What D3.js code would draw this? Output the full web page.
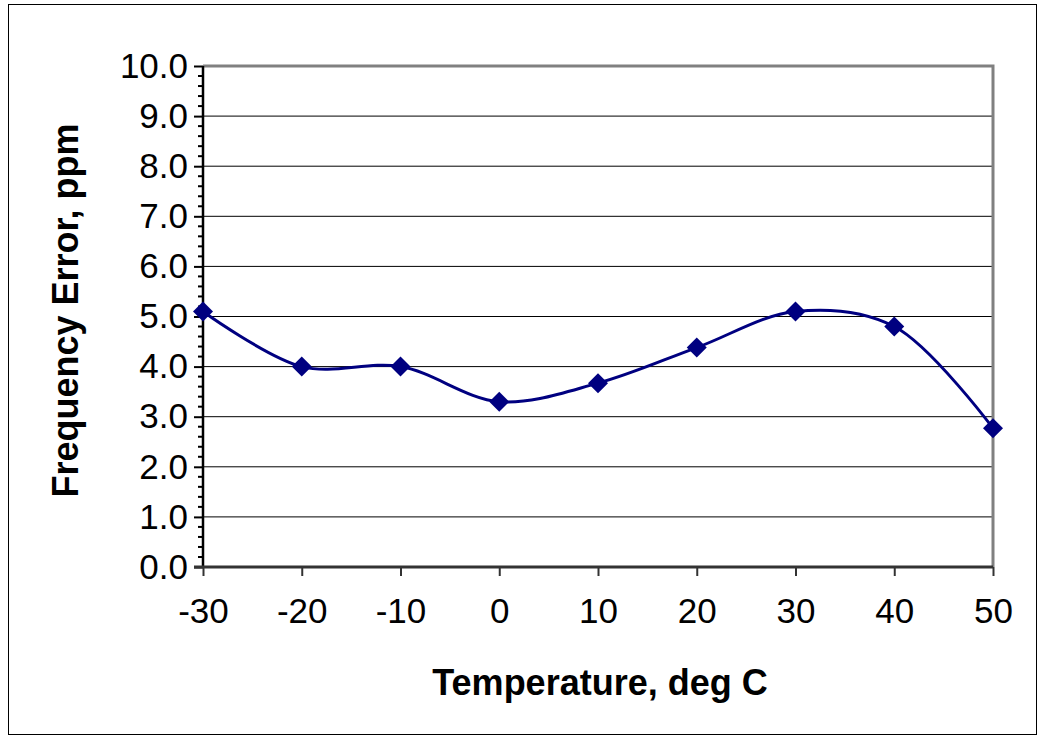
<!DOCTYPE html>
<html><head><meta charset="utf-8">
<script src="https://cdn.jsdelivr.net/npm/d3@7"></script>
<style>body{margin:0;background:#fff}text{font-family:Arial,"Liberation Sans",sans-serif}</style>
</head><body>
<svg id="chart" width="1045" height="740"></svg>
<script>
// values
var temps = [-30, -20, -10, 0, 10, 20, 30, 40, 50];
var errors = [5.1, 4.0, 4.0, 3.3, 3.67, 4.38, 5.1, 4.8, 2.77];
var yTicks = [0, 1, 2, 3, 4, 5, 6, 7, 8, 9, 10];

var svg = d3.select('#chart');
svg.append('rect').attr('x', 8.5).attr('y', 4.5).attr('width', 1028).attr('height', 730)
   .attr('fill', 'none').attr('stroke', '#000').attr('stroke-width', 1);

var x = d3.scaleLinear().domain([-30, 50]).range([203, 993]);
var y = d3.scaleLinear().domain([0, 10]).range([567, 66]);

// gridlines
svg.selectAll('.grid').data(yTicks.slice(1, -1)).enter().append('line')
   .attr('x1', x(-30)).attr('x2', x(50))
   .attr('y1', function(d) { return y(d); }).attr('y2', function(d) { return y(d); })
   .attr('stroke', '#000').attr('stroke-width', 1);

// plot frame top/right
svg.append('path').attr('d', 'M' + x(-30) + ',' + y(10) + 'H' + x(50) + 'V' + y(0))
   .attr('fill', 'none').attr('stroke', '#808080').attr('stroke-width', 3);

// y axis
var yAxis = d3.axisLeft(y).tickValues(yTicks).tickSize(9).tickPadding(6)
   .tickFormat(d3.format('.1f'));
var gy = svg.append('g').attr('transform', 'translate(' + x(-30) + ',0)').call(yAxis);
gy.select('.domain').remove();
gy.selectAll('line').attr('stroke', '#000').attr('stroke-width', 2);
gy.selectAll('text').style('font-size', '35px').attr('fill', '#000');
var minor = d3.range(0, 10.01, 0.2).filter(function(d) { return Math.abs(d - Math.round(d)) > 0.01; });
gy.selectAll('.minor').data(minor).enter().append('line')
   .attr('x1', -5).attr('x2', 0)
   .attr('y1', function(d) { return y(d); }).attr('y2', function(d) { return y(d); })
   .attr('stroke', '#000').attr('stroke-width', 2);
svg.append('line').attr('x1', x(-30)).attr('x2', x(-30)).attr('y1', y(10)).attr('y2', y(0) + 1)
   .attr('stroke', '#000').attr('stroke-width', 2.5);

// x axis
var xAxis = d3.axisBottom(x).tickValues(temps).tickSize(9).tickPadding(22)
   .tickFormat(function(d) { return String(d); });
var gx = svg.append('g').attr('transform', 'translate(0,' + y(0) + ')').call(xAxis);
gx.select('.domain').remove();
gx.selectAll('line').attr('stroke', '#333').attr('stroke-width', 2);
gx.selectAll('text').style('font-size', '35px').attr('fill', '#000');
svg.append('line').attr('x1', x(-30) - 9).attr('x2', x(50)).attr('y1', y(0)).attr('y2', y(0))
   .attr('stroke', '#333').attr('stroke-width', 3);

// axis titles
svg.append('text').attr('x', (x(-30) + x(50)) / 2 + 2).attr('y', 695).attr('text-anchor', 'middle')
   .style('font-size', '36px').attr('font-weight', 'bold').text('Temperature, deg C');
svg.append('text').attr('transform', 'translate(78,' + (y(5) - 6) + ') rotate(-90)')
   .attr('text-anchor', 'middle').style('font-size', '36px').attr('font-weight', 'bold')
   .text('Frequency Error, ppm');

// series
var pts = temps.map(function(t, i) { return [t, errors[i]]; });
var line = d3.line().x(function(d) { return x(d[0]); }).y(function(d) { return y(d[1]); })
   .curve(d3.curveCatmullRom.alpha(0.5));
svg.append('path').datum(pts).attr('d', line).attr('fill', 'none')
   .attr('stroke', '#000080').attr('stroke-width', 3);
svg.selectAll('.pt').data(pts).enter().append('path')
   .attr('transform', function(d) { return 'translate(' + x(d[0]) + ',' + y(d[1]) + ') rotate(45)'; })
   .attr('d', d3.symbol().type(d3.symbolSquare).size(200))
   .attr('fill', '#000080');
</script>
</body></html>
